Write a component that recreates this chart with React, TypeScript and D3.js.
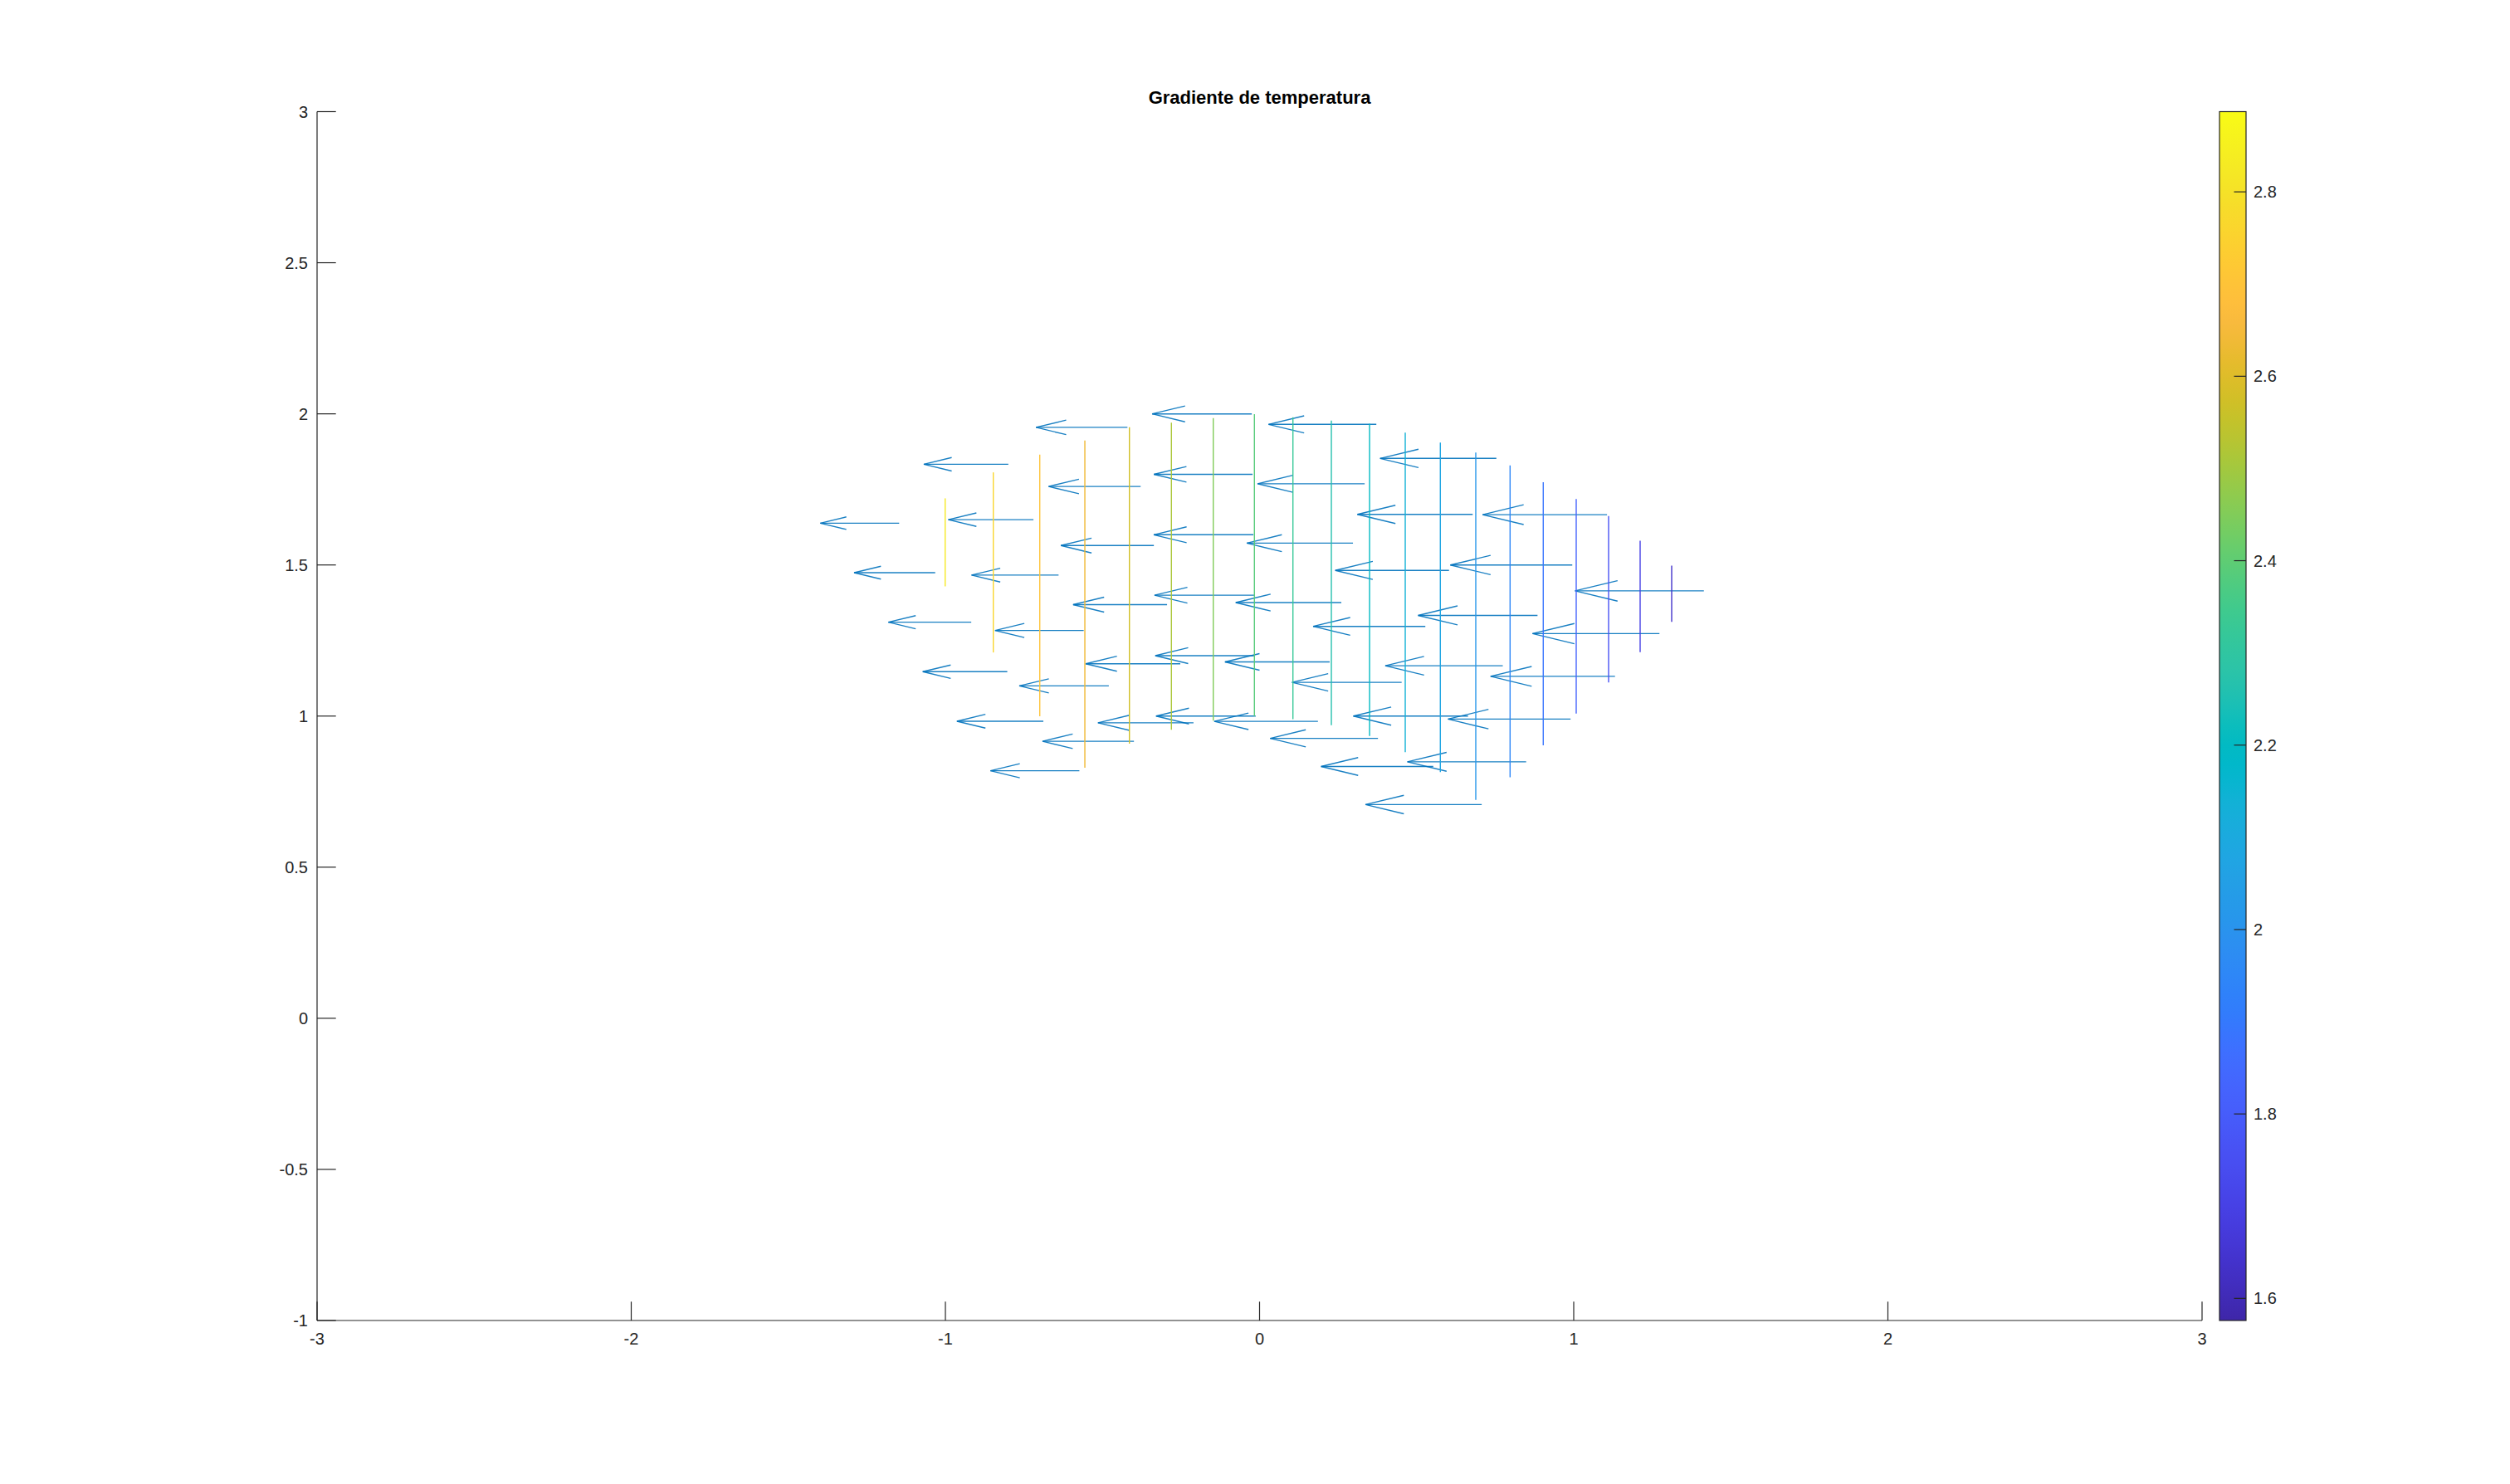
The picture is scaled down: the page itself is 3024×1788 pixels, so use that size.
import React, { useEffect } from 'react';
import * as d3 from 'd3';

const W = 3024;
const H = 1788;

// axes ticks
const xTicks = [-3, -2, -1, 0, 1, 2, 3];
const yTicks = [-1, -0.5, 0, 0.5, 1, 1.5, 2, 2.5, 3];
const cbTicks = [1.6, 1.8, 2, 2.2, 2.4, 2.6, 2.8];
const cLim: [number, number] = [1.576, 2.887];
const titleText = 'Gradiente de temperatura';

// polar sampling mesh of the gradient field
const gridRadii = [2, 1.8, 1.6, 1.4, 1.2, 1];
const gridAnglesDeg = [125, 113.57, 102.14, 90.71, 79.29, 67.86, 56.43, 45];
// horizontal gradient component (as drawn), one row per angle, one column per radius
const gradU = [
  [-0.251, -0.258, -0.264, -0.269, -0.275, -0.283],
  [-0.269, -0.271, -0.277, -0.282, -0.285, -0.291],
  [-0.291, -0.293, -0.296, -0.299, -0.301, -0.304],
  [-0.317, -0.314, -0.317, -0.317, -0.317, -0.317],
  [-0.343, -0.341, -0.338, -0.336, -0.333, -0.330],
  [-0.370, -0.367, -0.362, -0.357, -0.349, -0.343],
  [-0.396, -0.388, -0.380, -0.374, -0.365, -0.357],
  [-0.410, -0.404, -0.396, -0.390, -0.378, -0.370],
];
const gradV = [
  [0, 0, 0, 0, 0, 0],
  [0, 0, 0, 0, 0, 0],
  [0, 0, 0, 0, 0, 0],
  [0, 0, 0, 0, 0, 0],
  [0, 0, 0, 0, 0, 0],
  [0, 0, 0, 0, 0, 0],
  [0, 0, 0, 0, 0, 0],
  [0, 0, 0, 0, 0, 0],
];

// temperature contour lines (vertical), left to right
const contourLevels = [2.825, 2.762, 2.700, 2.637, 2.575, 2.512, 2.450, 2.388, 2.325, 2.263,
  2.200, 2.138, 2.075, 2.013, 1.951, 1.888, 1.826, 1.763, 1.701, 1.638];
const contourX = [-1.0008, -0.8476, -0.6996, -0.5561, -0.4143, -0.2806, -0.1474, -0.0164, 0.1062, 0.2285,
  0.3501, 0.4637, 0.5754, 0.6882, 0.7974, 0.9030, 1.0079, 1.1110, 1.2114, 1.3118];
const contourYLow = [1.4292, 1.2105, 0.9991, 0.8290, 0.9085, 0.9550, 0.9847, 0.9995, 0.9895, 0.9700,
  0.9342, 0.8804, 0.8148, 0.7226, 0.7974, 0.9030, 1.0079, 1.1110, 1.2114, 1.3118];
const contourYHigh = [1.7204, 1.8063, 1.8654, 1.9116, 1.9560, 1.9711, 1.9860, 1.9991, 1.9884, 1.9777,
  1.9671, 1.9381, 1.9052, 1.8719, 1.8295, 1.7737, 1.7182, 1.6621, 1.5800, 1.4979];

// parula colormap
const parula: number[][] = [
  [0.2422, 0.1504, 0.6603], [0.2504, 0.1650, 0.7076], [0.2578, 0.1818, 0.7511], [0.2647, 0.1978, 0.7952],
  [0.2706, 0.2147, 0.8364], [0.2751, 0.2342, 0.8710], [0.2783, 0.2559, 0.8991], [0.2803, 0.2782, 0.9221],
  [0.2813, 0.3006, 0.9414], [0.2810, 0.3228, 0.9579], [0.2795, 0.3447, 0.9717], [0.2760, 0.3667, 0.9829],
  [0.2699, 0.3892, 0.9906], [0.2602, 0.4123, 0.9952], [0.2440, 0.4358, 0.9988], [0.2206, 0.4603, 0.9973],
  [0.1963, 0.4847, 0.9892], [0.1834, 0.5074, 0.9798], [0.1786, 0.5289, 0.9682], [0.1764, 0.5499, 0.9520],
  [0.1687, 0.5703, 0.9359], [0.1540, 0.5902, 0.9218], [0.1460, 0.6091, 0.9079], [0.1380, 0.6276, 0.8973],
  [0.1248, 0.6459, 0.8883], [0.1113, 0.6635, 0.8763], [0.0952, 0.6798, 0.8598], [0.0689, 0.6948, 0.8394],
  [0.0297, 0.7082, 0.8163], [0.0036, 0.7203, 0.7917], [0.0067, 0.7312, 0.7660], [0.0433, 0.7411, 0.7394],
  [0.0964, 0.7500, 0.7120], [0.1408, 0.7584, 0.6842], [0.1717, 0.7670, 0.6554], [0.1938, 0.7758, 0.6251],
  [0.2161, 0.7843, 0.5923], [0.2470, 0.7918, 0.5567], [0.2906, 0.7973, 0.5188], [0.3406, 0.8008, 0.4789],
  [0.3909, 0.8029, 0.4354], [0.4456, 0.8024, 0.3909], [0.5044, 0.7993, 0.3480], [0.5616, 0.7942, 0.3045],
  [0.6174, 0.7876, 0.2612], [0.6720, 0.7793, 0.2227], [0.7242, 0.7698, 0.1910], [0.7738, 0.7598, 0.1646],
  [0.8203, 0.7498, 0.1535], [0.8634, 0.7406, 0.1596], [0.9035, 0.7330, 0.1774], [0.9393, 0.7288, 0.2100],
  [0.9728, 0.7298, 0.2394], [0.9956, 0.7434, 0.2371], [0.9970, 0.7659, 0.2199], [0.9952, 0.7893, 0.2028],
  [0.9892, 0.8136, 0.1885], [0.9786, 0.8386, 0.1766], [0.9676, 0.8639, 0.1643], [0.9610, 0.8890, 0.1537],
  [0.9597, 0.9135, 0.1423], [0.9628, 0.9373, 0.1265], [0.9691, 0.9606, 0.1064], [0.9769, 0.9839, 0.0805],
];
const parulaHex = parula.map(([r, g, b]) => d3.rgb(r * 255, g * 255, b * 255).formatHex());

const AXIS = '#262626';
const ARROW = '#0072BD';
const FONT = '"Liberation Sans", Arial, Helvetica, sans-serif';

export default function App() {
  useEffect(() => {
    document.body.style.margin = '0';
    document.body.style.overflow = 'hidden';
  }, []);

  const left = 382, right = 2653, top = 134.5, bottom = 1591;
  const x = d3.scaleLinear().domain([-3, 3]).range([left, right]);
  const y = d3.scaleLinear().domain([-1, 3]).range([bottom, top]);
  const cbX0 = 2674, cbX1 = 2706;
  const cb = d3.scaleLinear().domain(cLim).range([bottom, top]);
  const colorOf = d3.scaleQuantize<string>().domain(cLim).range(parulaHex);
  const tickLen = 22.7;
  const cbTickLen = 14.5;

  // quiver
  const alpha = 0.33, beta = 0.25;
  const shafts: string[] = [];
  const heads: string[] = [];
  gridAnglesDeg.forEach((deg, i) => {
    const th = (deg * Math.PI) / 180;
    gridRadii.forEach((r, j) => {
      const px = r * Math.cos(th);
      const py = r * Math.sin(th);
      const u = gradU[i][j];
      const v = gradV[i][j];
      const tx = px + u, ty = py + v;
      const p = d3.path();
      p.moveTo(x(px), y(py));
      p.lineTo(x(tx), y(ty));
      shafts.push(p.toString());
      const h = d3.path();
      h.moveTo(x(tx - alpha * (u + beta * v)), y(ty - alpha * (v - beta * u)));
      h.lineTo(x(tx), y(ty));
      h.lineTo(x(tx - alpha * (u - beta * v)), y(ty - alpha * (v + beta * u)));
      heads.push(h.toString());
    });
  });

  const fmt = (v: number) => String(v);

  return (
    <svg width={W} height={H} viewBox={`0 0 ${W} ${H}`} style={{ display: 'block', background: '#ffffff' }}
      fontFamily={FONT}>
      <defs>
        <linearGradient id="parulaGrad" x1="0" y1="1" x2="0" y2="0">
          {parulaHex.map((c, k) => (
            <stop key={k} offset={`${(k / (parulaHex.length - 1)) * 100}%`} stopColor={c} />
          ))}
        </linearGradient>
        <clipPath id="plotClip">
          <rect x={left} y={top} width={right - left} height={bottom - top} />
        </clipPath>
      </defs>
      <rect x={0} y={0} width={W} height={H} fill="#ffffff" />

      {/* quiver arrows */}
      <g clipPath="url(#plotClip)" fill="none" stroke={ARROW} strokeWidth={1.4} strokeOpacity={0.9}>
        {shafts.map((d, k) => <path key={`s${k}`} d={d} />)}
        {heads.map((d, k) => <path key={`h${k}`} d={d} />)}
      </g>

      {/* contour lines */}
      <g clipPath="url(#plotClip)" fill="none" strokeWidth={1.4}>
        {contourX.map((cx, k) => (
          <line key={k} x1={x(cx)} x2={x(cx)} y1={y(contourYLow[k])} y2={y(contourYHigh[k])}
            stroke={colorOf(contourLevels[k])} />
        ))}
      </g>

      {/* axes */}
      <g stroke={AXIS} strokeWidth={1.2} fill="none">
        <line x1={left} x2={left} y1={top} y2={bottom} />
        <line x1={left} x2={right} y1={bottom} y2={bottom} />
        {xTicks.map((t) => (
          <line key={`xt${t}`} x1={x(t)} x2={x(t)} y1={bottom} y2={bottom - tickLen} />
        ))}
        {yTicks.map((t) => (
          <line key={`yt${t}`} x1={left} x2={left + tickLen} y1={y(t)} y2={y(t)} />
        ))}
      </g>
      <g fill={AXIS} fontSize={20}>
        {xTicks.map((t) => (
          <text key={`xl${t}`} x={x(t)} y={bottom + 29} textAnchor="middle">{fmt(t)}</text>
        ))}
        {yTicks.map((t) => (
          <text key={`yl${t}`} x={left - 11} y={y(t) + 7} textAnchor="end">{fmt(t)}</text>
        ))}
      </g>

      {/* title */}
      <text x={(left + right) / 2} y={125} textAnchor="middle" fontSize={22} fontWeight="bold" fill="#000000">
        {titleText}
      </text>

      {/* colorbar */}
      <rect x={cbX0} y={cb(cLim[1])} width={cbX1 - cbX0} height={cb(cLim[0]) - cb(cLim[1])} fill="url(#parulaGrad)" />
      <g stroke={AXIS} strokeWidth={1.2} fill="none">
        <rect x={cbX0} y={cb(cLim[1])} width={cbX1 - cbX0} height={cb(cLim[0]) - cb(cLim[1])} />
        {cbTicks.map((t) => (
          <line key={`ct${t}`} x1={cbX1} x2={cbX1 - cbTickLen} y1={cb(t)} y2={cb(t)} />
        ))}
      </g>
      <g fill={AXIS} fontSize={20}>
        {cbTicks.map((t) => (
          <text key={`cl${t}`} x={cbX1 + 9} y={cb(t) + 7} textAnchor="start">{fmt(t)}</text>
        ))}
      </g>
    </svg>
  );
}
